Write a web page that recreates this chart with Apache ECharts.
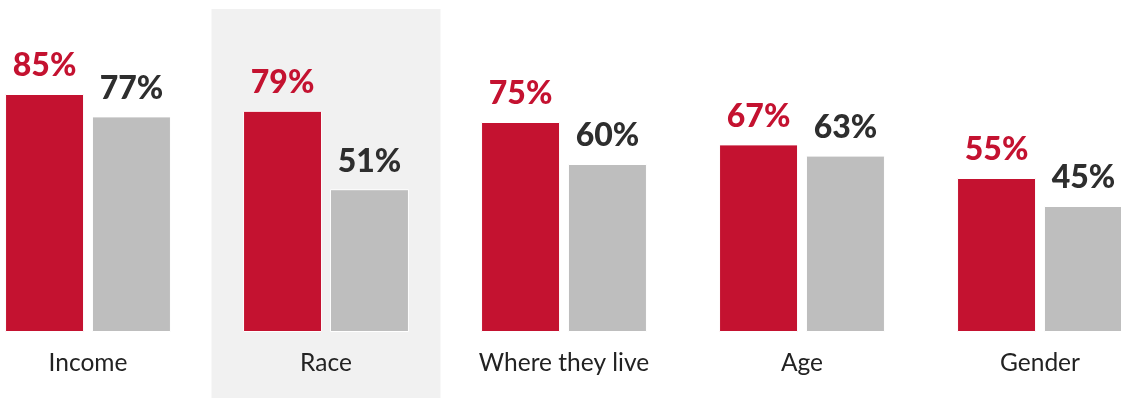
<!DOCTYPE html>
<html><head><meta charset="utf-8">
<script src="https://cdn.jsdelivr.net/npm/echarts@6/dist/echarts.min.js"></script>
<style>html,body{margin:0;padding:0;background:#fff}#c{width:1121px;height:398px}</style>
</head><body><div id="c"></div>
<script>
const categories = ['Income', 'Race', 'Where they live', 'Age', 'Gender'];
const seriesA = [85, 79, 75, 67, 55];
const seriesB = [77, 51, 60, 63, 45];
const highlightCategory = 'Race';

const chart = echarts.init(document.getElementById('c'));
const FONT = 'Lato';
const gridL = -31, gridR = -38;
chart.setOption({
  animation: false,
  grid: [
    {left: gridL, right: gridR, top: 52, bottom: 66, outerBoundsMode: 'none'},
    {left: gridL, right: gridR, top: 9, bottom: 0, outerBoundsMode: 'none'}
  ],
  xAxis: [
    {type: 'category', data: categories, gridIndex: 0,
     axisLine: {show: false}, axisTick: {show: false},
     axisLabel: {fontFamily: FONT, fontSize: 24.5, color: '#222', margin: 19}},
    {type: 'category', data: categories, gridIndex: 1, show: false}
  ],
  yAxis: [
    {type: 'value', min: 0, max: 100, gridIndex: 0, show: false},
    {type: 'value', min: 0, max: 1, gridIndex: 1, show: false}
  ],
  series: [
    {type: 'bar', xAxisIndex: 1, yAxisIndex: 1, z: 0, barWidth: 229, silent: true,
     data: categories.map(c => c === highlightCategory ? 1 : null),
     itemStyle: {color: '#F1F1F1'}},
    {type: 'bar', xAxisIndex: 0, yAxisIndex: 0, z: 3, data: seriesA, barWidth: 79, barGap: '10%',
     itemStyle: {color: '#C41230', borderColor: '#fff', borderWidth: 1},
     label: {show: true, position: 'top', distance: 12, formatter: '{c}%',
             fontFamily: FONT, fontWeight: 900, fontSize: 32, color: '#C41230'}},
    {type: 'bar', xAxisIndex: 0, yAxisIndex: 0, z: 3, data: seriesB, barWidth: 79, barGap: '10%',
     itemStyle: {color: '#BEBEBE', borderColor: '#fff', borderWidth: 1},
     label: {show: true, position: 'top', distance: 12, formatter: '{c}%',
             fontFamily: FONT, fontWeight: 900, fontSize: 32, color: '#2E2E2E'}}
  ]
});
</script></body></html>
